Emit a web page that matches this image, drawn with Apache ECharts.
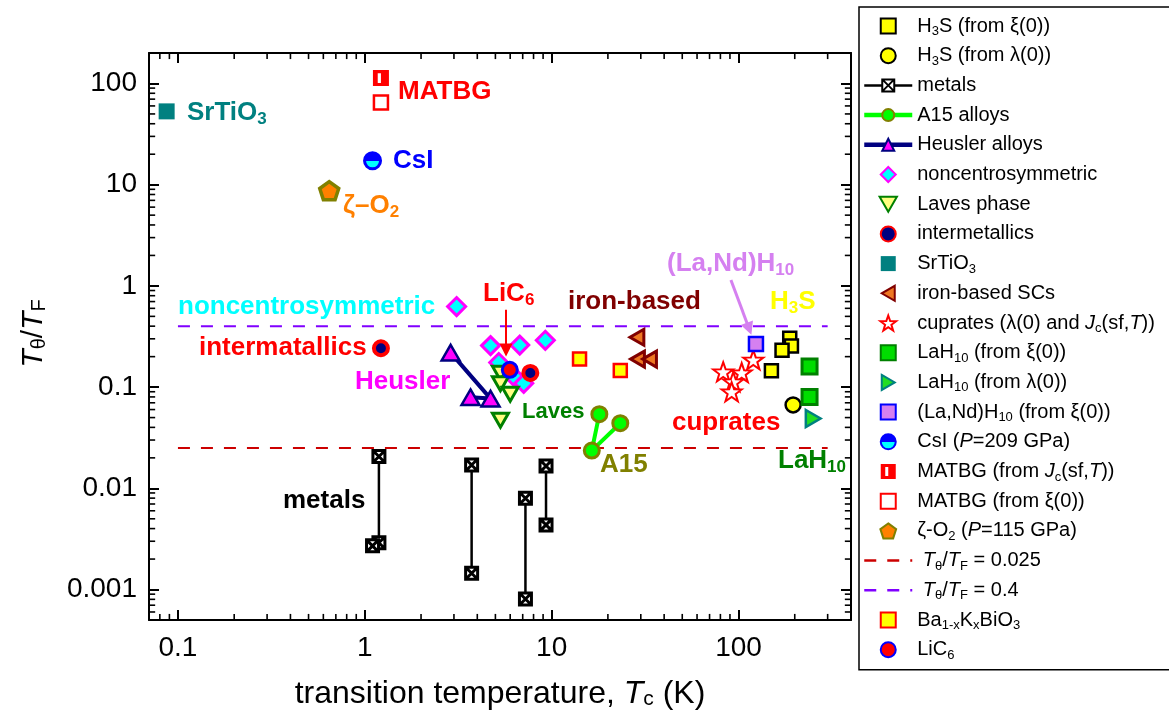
<!DOCTYPE html>
<html>
<head>
<meta charset="utf-8">
<script src="https://cdn.jsdelivr.net/npm/echarts@6/dist/echarts.min.js"></script>
<style>
html, body { margin: 0; padding: 0; background: #fff; }
#chart { width: 1169px; height: 716px; }
</style>
</head>
<body>
<div id="chart"></div>
<script>
// each point: [Tc (K), T_theta / T_F]
const H3S_XI = [[188, 0.304], [192, 0.255], [171, 0.231], [150, 0.145]];
const H3S_LAMBDA = [[196, 0.0667]];
const METALS = [
    [[1.19, 0.0206], [1.19, 0.0029], [1.10, 0.0027]],
    [[3.73, 0.0170], [3.73, 0.00145]],
    [[7.24, 0.00798], [7.24, 0.000807]],
    [[9.33, 0.0166], [9.33, 0.00435]]
];
const A15 = [[18.0, 0.054], [16.4, 0.0236], [23.3, 0.044]];
const HEUSLER = [[2.88, 0.219], [4.71, 0.077], [3.68, 0.0795]];
const NONCENTRO = [[3.10, 0.625], [4.71, 0.257], [6.75, 0.26], [9.25, 0.29], [5.21, 0.175], [6.4, 0.123], [7.09, 0.109]];
const LAVES = [[5.32, 0.137], [5.32, 0.108], [6.0, 0.085], [5.32, 0.047]];
const INTERMETALLICS = [[1.22, 0.242], [7.69, 0.138]];
const SRTIO3 = [[0.087, 53]];
const IRON = [[28.6, 0.311], [28.8, 0.189], [33.4, 0.189]];
const CUPRATES = [[82.8, 0.142], [104, 0.139], [120, 0.186], [93.7, 0.113], [91.9, 0.090]];
const LAH10_XI = [[240, 0.16], [240, 0.080]];
const LAH10_LAMBDA = [[251, 0.049]];
const LANDH10 = [[124, 0.266]];
const CSI = [[1.10, 17.2]];
const MATBG_JC = [[1.22, 113]];
const MATBG_XI = [[1.22, 65]];
const ZETA_O2 = [[0.645, 8.74]];
const LINE_0025 = [[0.1, 0.025], [300, 0.025]];
const LINE_04 = [[0.1, 0.4], [300, 0.4]];
const BKBO = [[14.1, 0.19], [23.3, 0.146]];
const LIC6 = [[5.97, 0.148]];

// annotation arrows: [from, to]
const ARROW_LIC6 = [[5.7, 0.58], [5.7, 0.233]];
const ARROW_LANDH10 = [[91.1, 1.146], [114, 0.377]];

// minor tick values (2..9 of each decade)
const X_MINOR_TICKS = [0.08, 0.09, 0.2, 0.3, 0.4, 0.5, 0.6, 0.7, 0.8, 0.9,
    2, 3, 4, 5, 6, 7, 8, 9, 20, 30, 40, 50, 60, 70, 80, 90, 200, 300];
const Y_MINOR_TICKS = [0.0006, 0.0007, 0.0008, 0.0009,
    0.002, 0.003, 0.004, 0.005, 0.006, 0.007, 0.008, 0.009,
    0.02, 0.03, 0.04, 0.05, 0.06, 0.07, 0.08, 0.09,
    0.2, 0.3, 0.4, 0.5, 0.6, 0.7, 0.8, 0.9,
    2, 3, 4, 5, 6, 7, 8, 9, 20, 30, 40, 50, 60, 70, 80, 90];

const X_MIN = 0.07, X_MAX = 400, Y_MIN = 5e-4, Y_MAX = 200;

const FONT = 'Liberation Sans, Arial, Helvetica, sans-serif';

const LEGEND = [
    ['H3S xi', 'H{s|3}S (from ξ(0))'],
    ['H3S lambda', 'H{s|3}S (from λ(0))'],
    ['metals', 'metals'],
    ['A15 alloys', 'A15 alloys'],
    ['Heusler alloys', 'Heusler alloys'],
    ['noncentrosymmetric', 'noncentrosymmetric'],
    ['Laves phase', 'Laves phase'],
    ['intermetallics', 'intermetallics'],
    ['SrTiO3', 'SrTiO{s|3}'],
    ['iron-based SCs', 'iron-based SCs'],
    ['cuprates', 'cuprates (λ(0) and {i|J}{s|c}(sf,{i|T}))'],
    ['LaH10 xi', 'LaH{s|10} (from ξ(0))'],
    ['LaH10 lambda', 'LaH{s|10} (from λ(0))'],
    ['(La,Nd)H10', '(La,Nd)H{s|10} (from ξ(0))'],
    ['CsI', 'CsI ({i|P}=209 GPa)'],
    ['MATBG jc', 'MATBG (from {i|J}{s|c}(sf,{i|T}))'],
    ['MATBG xi', 'MATBG (from ξ(0))'],
    ['zeta-O2', 'ζ-O{s|2} ({i|P}=115 GPa)'],
    ['line 0.025', ' {i|T}{s|θ}/{i|T}{s|F} = 0.025'],
    ['line 0.4', ' {i|T}{s|θ}/{i|T}{s|F} = 0.4'],
    ['BKBO', 'Ba{s|1-x}K{s|x}BiO{s|3}'],
    ['LiC6', 'LiC{s|6}']
];
const legendText = {};
LEGEND.forEach(function (l) { legendText[l[0]] = l[1]; });

// text labels inside the plot: [left x, middle y, parts, colour, size]
const LABELS = [
    [187, 113, [['SrTiO'], ['3', 1]], '#008080', 26],
    [398, 92, [['MATBG']], '#FF0000', 26],
    [393, 161, [['CsI']], '#0000FF', 26],
    [343, 206, [['ζ–O'], ['2', 1]], '#FF8000', 26],
    [178, 307, [['noncentrosymmetric']], '#00FFFF', 26],
    [199, 348, [['intermatallics']], '#FF0000', 26],
    [355, 382, [['Heusler']], '#FF00FF', 26],
    [483, 294, [['LiC'], ['6', 1]], '#FF0000', 26],
    [568, 302, [['iron-based']], '#800000', 26],
    [667, 264, [['(La,Nd)H'], ['10', 1]], '#D580F0', 26],
    [770, 302, [['H'], ['3', 1], ['S']], '#FFFF00', 26],
    [522, 412, [['Laves']], '#008000', 22],
    [600, 465, [['A15']], '#808000', 26],
    [672, 423, [['cuprates']], '#FF0000', 26],
    [778, 461, [['LaH'], ['10', 1]], '#008000', 26],
    [283, 501, [['metals']], '#000000', 26]
];

const SQUARE = 'path://M0,0L10,0L10,10L0,10Z';
const SQUARE_X = 'path://M0,0L10,0L10,10L0,10Z M0,0L10,10 M10,0L0,10';
const SQUARE_SLOT = 'path://M0,0L10,0L10,10L0,10Z M3,2L3,8L5,8L5,2Z';
const DIAMOND = 'path://M5,0L10,5L5,10L0,5Z';
const TRI_UP = 'path://M5,0L10,8.66L0,8.66Z';
const TRI_DOWN = 'path://M0,0L10,0L5,8.66Z';
const TRI_LEFT = 'path://M8.66,0L8.66,10L0,5Z';
const TRI_RIGHT = 'path://M0,0L8.66,5L0,10Z';
const STAR = 'path://M0,-10L2.35,-3.24L9.51,-3.09L3.8,1.24L5.88,8.09L0,4L-5.88,8.09L-3.8,1.24L-9.51,-3.09L-2.35,-3.24Z';
const PENTAGON = 'path://M0,-10L9.51,-3.09L5.88,8.09L-5.88,8.09L-9.51,-3.09Z';

function scatter(name, data, symbol, size, fill, stroke, bw, extra) {
    return Object.assign({
        type: 'scatter', name: name, data: data, symbol: symbol, symbolSize: size,
        symbolKeepAspect: true,
        itemStyle: { color: fill, borderColor: stroke, borderWidth: bw, opacity: 1 },
        emphasis: { disabled: true }
    }, extra || {});
}

function joined(name, data, symbol, size, fill, stroke, bw, lineColor, lw) {
    return {
        type: 'line', name: name, data: data, symbol: symbol, symbolSize: size, showSymbol: true,
        symbolKeepAspect: true,
        itemStyle: { color: fill, borderColor: stroke, borderWidth: bw },
        lineStyle: { color: lineColor, width: lw },
        emphasis: { disabled: true }
    };
}

function dashed(name, data, color) {
    return {
        type: 'line', name: name, data: data, symbol: 'none',
        itemStyle: { color: color },
        lineStyle: { color: color, width: 2, type: [12, 11] },
        emphasis: { disabled: true }
    };
}

function arrow(coords, color, width) {
    return {
        silent: true, symbol: ['none', 'triangle'], symbolSize: 13,
        label: { show: false }, emphasis: { disabled: true },
        lineStyle: { color: color, width: width, type: 'solid' },
        itemStyle: { color: color },
        data: [[{ coord: coords[0] }, { coord: coords[1] }]]
    };
}

// short black bars for the minor ticks; they borrow the 'metals' legend name
// so a legend filter cannot drop them (the legend icon comes from the first metals series)
const Y_LO = Y_MIN * 1.002, Y_HI = Y_MAX / 1.002, X_LO = X_MIN * 1.002, X_HI = X_MAX / 1.002;
function tickBars(data, size, offset) {
    return {
        type: 'scatter', name: 'metals', data: data, clip: false,
        symbol: 'rect', symbolSize: size, symbolOffset: offset,
        itemStyle: { color: '#000000', borderWidth: 0, opacity: 1 },
        emphasis: { disabled: true }
    };
}

function labelGraphic(l) {
    const size = l[4], color = l[3];
    const main = { fontSize: size, fontWeight: 'bold', fontFamily: FONT, fill: color, lineHeight: size + 4 };
    const sub = { fontSize: Math.round(size * 0.66), fontWeight: 'bold', fontFamily: FONT, fill: color,
        lineHeight: Math.round(size * 0.55), verticalAlign: 'bottom' };
    const text = l[2].map(function (p) { return '{' + (p[1] ? 's' : 'n') + '|' + p[0] + '}'; }).join('');
    return {
        type: 'text', x: l[0], y: l[1], silent: true, z: 100,
        style: {
            text: text, fill: color, fontSize: size, fontWeight: 'bold', fontFamily: FONT,
            align: 'left', verticalAlign: 'middle', textAlign: 'left', textVerticalAlign: 'middle',
            rich: { n: main, s: sub }
        }
    };
}

const csiFill = new echarts.graphic.LinearGradient(0, 0, 0, 1, [
    { offset: 0, color: '#0000FF' }, { offset: 0.52, color: '#0000FF' },
    { offset: 0.52, color: '#00FFFF' }, { offset: 1, color: '#00FFFF' }
]);

const axisLineStyle = { show: true, onZero: false, lineStyle: { color: '#000', width: 2 } };
const axisTickStyle = { show: true, inside: true, length: 10, lineStyle: { color: '#000', width: 2 } };
const tickLabel = { fontSize: 28, color: '#000', fontFamily: FONT, showMinLabel: false, showMaxLabel: false };

const series = [
    scatter('H3S xi', H3S_XI, SQUARE, 13, '#FFFF00', '#000', 2.5),
    scatter('H3S lambda', H3S_LAMBDA, 'circle', 15, '#FFFF00', '#000', 2.5)
];
METALS.forEach(function (pair) {
    series.push(joined('metals', pair, SQUARE_X, 12, '#FFFFFF', '#000', 3, '#000', 2.5));
});
series.push(
    joined('A15 alloys', A15, 'circle', 15, '#00FF00', '#808000', 3, '#00FF00', 4),
    joined('Heusler alloys', HEUSLER, TRI_UP, 18, '#FF00FF', '#000080', 2.5, '#000080', 4),
    scatter('noncentrosymmetric', NONCENTRO, DIAMOND, 18, '#00FFFF', '#FF00FF', 3),
    scatter('Laves phase', LAVES, TRI_DOWN, 16, '#FFFF80', '#008000', 3),
    scatter('intermetallics', INTERMETALLICS, 'circle', 14, '#000080', '#FF0000', 4),
    scatter('SrTiO3', SRTIO3, SQUARE, 16, '#008080', '#008080', 0),
    scatter('iron-based SCs', IRON, TRI_LEFT, 16, '#EE7722', '#800000', 3),
    scatter('cuprates', CUPRATES, STAR, 20, '#FFFFFF', '#FF0000', 2),
    scatter('LaH10 xi', LAH10_XI, SQUARE, 15, '#00DD00', '#008000', 3),
    scatter('LaH10 lambda', LAH10_LAMBDA, TRI_RIGHT, 17, '#22DD22', '#008080', 2.5),
    scatter('(La,Nd)H10', LANDH10, SQUARE, 14, '#D580F0', '#0000FF', 2.5,
        { markLine: arrow(ARROW_LANDH10, '#D580F0', 3) }),
    scatter('CsI', CSI, 'circle', 16, csiFill, '#0000FF', 3),
    scatter('MATBG jc', MATBG_JC, SQUARE_SLOT, 16, '#FF0000', '#FF0000', 0),
    scatter('MATBG xi', MATBG_XI, SQUARE, 14, '#FFFFFF', '#FF0000', 2.5),
    scatter('zeta-O2', ZETA_O2, PENTAGON, 19, '#FF8000', '#808000', 3.5),
    dashed('line 0.025', LINE_0025, '#CC0000'),
    dashed('line 0.4', LINE_04, '#8000FF'),
    scatter('BKBO', BKBO, SQUARE, 13, '#FFFF00', '#FF0000', 2.5),
    scatter('LiC6', LIC6, 'circle', 15, '#FF0000', '#0000FF', 3,
        { markLine: arrow(ARROW_LIC6, '#FF0000', 2) }),
    tickBars(X_MINOR_TICKS.map(function (v) { return [v, Y_LO]; }), [1.6, 6], [0, -3]),
    tickBars(X_MINOR_TICKS.map(function (v) { return [v, Y_HI]; }), [1.6, 6], [0, 3]),
    tickBars(Y_MINOR_TICKS.map(function (v) { return [X_LO, v]; }), [6, 1.6], [3, 0]),
    tickBars(Y_MINOR_TICKS.map(function (v) { return [X_HI, v]; }), [6, 1.6], [-3, 0])
);

const legendItems = LEGEND.map(function (l) {
    const item = { name: l[0] };
    if (l[0] === 'A15 alloys' || l[0] === 'Heusler alloys') item.lineStyle = { width: 4.5 };
    if (l[0] === 'metals') item.lineStyle = { width: 2.5 };
    if (l[0] === 'line 0.025' || l[0] === 'line 0.4') {
        item.itemStyle = { opacity: 0 };
        item.lineStyle = { width: 2.5 };
    }
    return item;
});

const chart = echarts.init(document.getElementById('chart'), null, { renderer: 'canvas' });
chart.setOption({
    animation: false,
    backgroundColor: '#fff',
    grid: { left: 149, right: 318, top: 53, bottom: 96, outerBoundsMode: 'none' },
    xAxis: [{
        type: 'log', min: X_MIN, max: X_MAX, position: 'bottom',
        axisLine: axisLineStyle, axisTick: axisTickStyle, splitLine: { show: false },
        axisLabel: Object.assign({ margin: 14 }, tickLabel),
        name: 'transition temperature, {i|T}{s|c} (K)',
        nameLocation: 'middle', nameGap: 58,
        nameTextStyle: {
            fontSize: 32, fontFamily: FONT, color: '#000',
            rich: {
                i: { fontSize: 32, fontStyle: 'italic', fontFamily: FONT, color: '#000' },
                s: { fontSize: 21, fontFamily: FONT, color: '#000', lineHeight: 14, verticalAlign: 'bottom' }
            }
        }
    }, {
        type: 'log', min: X_MIN, max: X_MAX, position: 'top',
        axisLine: axisLineStyle, axisTick: axisTickStyle, splitLine: { show: false },
        axisLabel: { show: false }
    }],
    yAxis: [{
        type: 'log', min: Y_MIN, max: Y_MAX, position: 'left',
        axisLine: axisLineStyle, axisTick: axisTickStyle, splitLine: { show: false },
        axisLabel: Object.assign({ margin: 12 }, tickLabel),
        name: '{i|T}{s|θ}{n|/}{i|T}{s|F}',
        nameLocation: 'middle', nameRotate: 90, nameGap: 100,
        nameTextStyle: {
            fontSize: 30, fontFamily: FONT, color: '#000', padding: [0, 0, 0, 6],
            rich: {
                n: { fontSize: 30, fontFamily: FONT, color: '#000' },
                i: { fontSize: 30, fontStyle: 'italic', fontFamily: FONT, color: '#000' },
                s: { fontSize: 20, fontFamily: FONT, color: '#000', lineHeight: 15, verticalAlign: 'bottom' }
            }
        }
    }, {
        type: 'log', min: Y_MIN, max: Y_MAX, position: 'right',
        axisLine: axisLineStyle, axisTick: axisTickStyle, splitLine: { show: false },
        axisLabel: { show: false }
    }],
    legend: {
        orient: 'vertical', left: 859, top: 7,
        padding: [7, 30, 8, 3], itemGap: 5.7, itemWidth: 48, itemHeight: 15,
        borderColor: '#000', borderWidth: 1.5, backgroundColor: '#fff',
        selectedMode: false, symbolKeepAspect: true,
        data: legendItems,
        formatter: function (name) { return legendText[name] || name; },
        textStyle: {
            fontSize: 20, fontFamily: FONT, color: '#000', lineHeight: 24,
            rich: {
                i: { fontSize: 20, fontStyle: 'italic', fontFamily: FONT, color: '#000', lineHeight: 24 },
                s: { fontSize: 13, fontFamily: FONT, color: '#000', lineHeight: 13, verticalAlign: 'bottom' }
            }
        }
    },
    graphic: LABELS.map(labelGraphic),
    series: series
});
</script>
</body>
</html>
